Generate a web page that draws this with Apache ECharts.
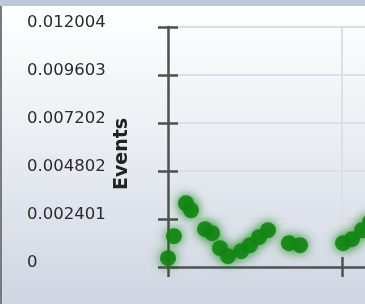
<!DOCTYPE html>
<html>
<head>
<meta charset="utf-8">
<title>Events</title>
<script src="https://cdn.jsdelivr.net/npm/echarts@6/dist/echarts.min.js"></script>
<style>
  html, body { margin: 0; padding: 0; }
  #main {
    width: 365px; height: 304px;
    background:
      linear-gradient(#bcc7da, #bcc7da) top left / 100% 6px no-repeat,
      linear-gradient(#7a7a7a, #7a7a7a) top left / 2px 100% no-repeat,
      linear-gradient(to bottom, #ffffff 0%, #fbfcfd 10%, #e6eaf0 55%, #cfd6e2 100%);
  }
</style>
</head>
<body>
<div id="main"></div>
<script type="text/javascript">
  // scatter points (time, events)
  var xValues = [0, 0.34, 1.03, 1.32, 2.13, 2.53, 2.99, 3.45, 4.20, 4.71, 5.23, 5.75, 6.95, 7.59, 10.06, 10.57, 11.15, 11.61];
  var yValues = [0.00044, 0.00154, 0.00319, 0.00284, 0.00189, 0.00169, 0.00094, 0.00054, 0.00079, 0.00109, 0.00149, 0.00184, 0.00119, 0.00109, 0.00119, 0.00139, 0.00184, 0.00224];
  var yTicks = [0, 0.002401, 0.004802, 0.007202, 0.009603, 0.012004];

  var yMax = 0.012004;
  var yStep = yMax / 5;

  var points = [];
  for (var i = 0; i < xValues.length; i++) {
    points.push([xValues[i], yValues[i]]);
  }

  var myChart = echarts.init(document.getElementById('main'));

  var axisColor = '#505050';

  function yLabel(v) {
    // pick the closest tick label text
    var best = yTicks[0];
    for (var k = 0; k < yTicks.length; k++) {
      if (Math.abs(yTicks[k] - v) < Math.abs(best - v)) best = yTicks[k];
    }
    return best === 0 ? '0' : best.toFixed(6);
  }

  option = {
    backgroundColor: 'transparent',
    animation: false,
    grid: {
      left: 168,
      top: 27,
      width: 348,
      height: 240,
      containLabel: false,
      outerBoundsMode: 'none'
    },
    xAxis: [
      {
        type: 'value',
        min: 0, max: 20, interval: 10,
        axisLine: { lineStyle: { color: axisColor, width: 2.5 } },
        axisTick: { show: true, length: 10, lineStyle: { color: axisColor, width: 2.5 } },
        axisLabel: { show: false },
        splitLine: { show: true, lineStyle: { color: '#dcdfe4', width: 2 } }
      },
      {
        type: 'value',
        position: 'bottom',
        min: 0, max: 20, interval: 10,
        axisLine: { show: false },
        axisTick: { show: true, inside: true, length: 10, lineStyle: { color: axisColor, width: 2.5 } },
        axisLabel: { show: false },
        splitLine: { show: false }
      }
    ],
    yAxis: [
      {
        type: 'value',
        min: 0, max: yMax, interval: yStep,
        name: 'Events',
        nameLocation: 'middle',
        nameGap: 36,
        nameMoveOverlap: false,
        nameTextStyle: {
          fontFamily: 'DejaVu Sans',
          fontWeight: 'bold',
          fontSize: 19,
          color: '#222',
          padding: [0, 14, 0, 0]
        },
        axisLine: { lineStyle: { color: axisColor, width: 2.5 } },
        axisTick: { show: true, length: 10, lineStyle: { color: axisColor, width: 2.5 } },
        axisLabel: {
          align: 'left',
          verticalAlign: 'bottom',
          lineHeight: 9,
          margin: 141,
          fontFamily: 'DejaVu Sans',
          fontSize: 16.5,
          color: '#2a2a2a',
          formatter: yLabel
        },
        splitLine: { show: true, lineStyle: { color: '#dcdfe4', width: 2 } }
      },
      {
        type: 'value',
        position: 'left',
        min: 0, max: yMax, interval: yStep,
        axisLine: { show: false },
        axisTick: { show: true, inside: true, length: 10, lineStyle: { color: axisColor, width: 2.5 } },
        axisLabel: { show: false },
        splitLine: { show: false }
      }
    ],
    series: [
      {
        name: 'Events',
        type: 'scatter',
        clip: false,
        symbol: 'circle',
        symbolSize: 16,
        itemStyle: {
          color: '#118611',
          opacity: 0.9,
          shadowBlur: 11,
          shadowColor: 'rgba(17,134,17,1)'
        },
        data: points
      }
    ]
  };

  myChart.setOption(option);
</script>
</body>
</html>
